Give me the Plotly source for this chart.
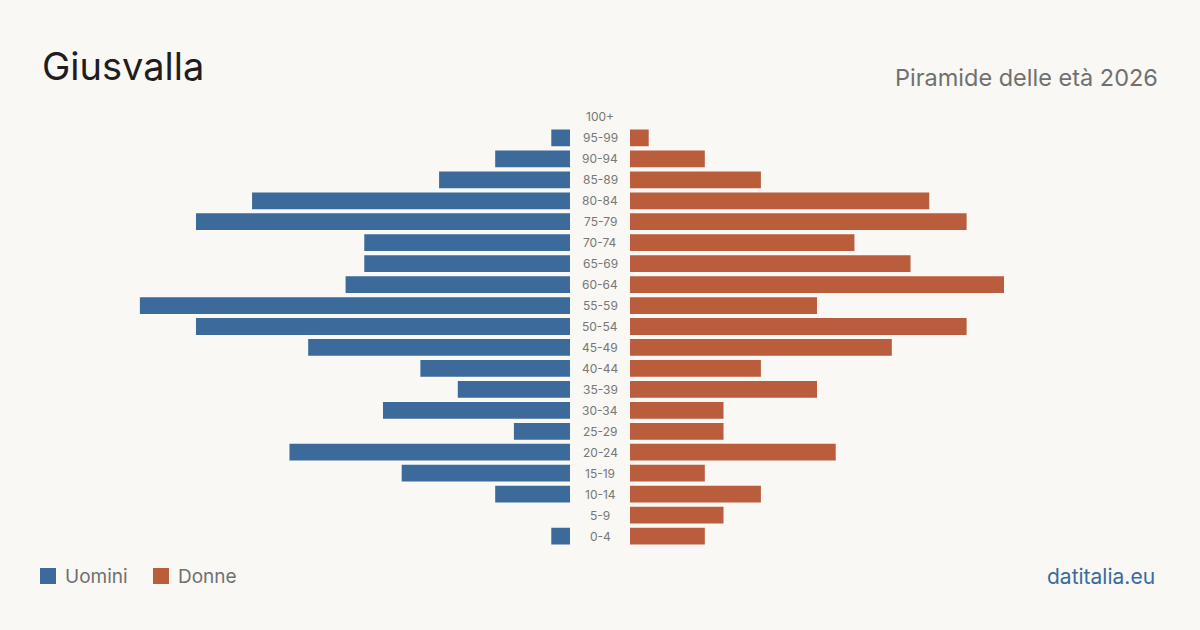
import plotly.graph_objects as go

age_groups = ["0-4", "5-9", "10-14", "15-19", "20-24", "25-29", "30-34", "35-39", "40-44",
              "45-49", "50-54", "55-59", "60-64", "65-69", "70-74", "75-79", "80-84",
              "85-89", "90-94", "95-99", "100+"]
men =   [1, 0, 4, 9, 15, 3, 10, 6, 8, 14, 20, 23, 12, 11, 11, 20, 17, 7, 4, 1, 0]
women = [4, 5, 7, 4, 11, 5, 5, 10, 7, 14, 18, 10, 20, 15, 12, 18, 16, 7, 4, 1, 0]

title = "Giusvalla"
subtitle = "Piramide delle età 2026"
source = "datitalia.eu"

BLUE = "#3b6a9b"
ORANGE = "#ba5d3c"
BG = "#f9f8f4"
FONT = "Inter, 'Noto Sans', sans-serif"

W, H = 1200, 630
xmax = 28.34

fig = go.Figure()
fig.add_trace(go.Bar(y=age_groups, x=men, orientation="h", marker_color=BLUE,
                     marker_line_width=0, width=0.8, xaxis="x", yaxis="y", name="Uomini",
                     showlegend=False, hoverinfo="x+y"))
fig.add_trace(go.Bar(y=age_groups, x=women, orientation="h", marker_color=ORANGE,
                     marker_line_width=0, width=0.8, xaxis="x2", yaxis="y", name="Donne",
                     showlegend=False, hoverinfo="x+y"))

ydom = [(H - 546.5) / H, (H - 106.5) / H]

annotations = []
for g in age_groups:
    annotations.append(dict(x=0.5, xref="paper", y=g, yref="y", text=g, showarrow=False,
                            font=dict(family=FONT, size=12, color="#777777"),
                            xanchor="center", yanchor="middle"))

annotations += [
    dict(x=40 / W, y=1 - 66 / H, xref="paper", yref="paper", text=title, showarrow=False,
         xanchor="left", yanchor="middle", font=dict(family=FONT, size=38, color="#1e1e1e")),
    dict(x=1160 / W, y=1 - 77 / H, xref="paper", yref="paper", text=subtitle, showarrow=False,
         xanchor="right", yanchor="middle", font=dict(family=FONT, size=23.5, color="#707070")),
    dict(x=1157 / W, y=1 - 576 / H, xref="paper", yref="paper", text=source, showarrow=False,
         xanchor="right", yanchor="middle", font=dict(family=FONT, size=21, color=BLUE)),
    dict(x=63 / W, y=1 - 576 / H, xref="paper", yref="paper", text="Uomini", showarrow=False,
         xanchor="left", yanchor="middle", font=dict(family=FONT, size=19, color="#707070")),
    dict(x=176 / W, y=1 - 576 / H, xref="paper", yref="paper", text="Donne", showarrow=False,
         xanchor="left", yanchor="middle", font=dict(family=FONT, size=19, color="#707070")),
]

shapes = [
    dict(type="rect", xref="paper", yref="paper", x0=40 / W, x1=56 / W,
         y0=1 - 584 / H, y1=1 - 568 / H, fillcolor=BLUE, line=dict(width=0)),
    dict(type="rect", xref="paper", yref="paper", x0=153 / W, x1=169 / W,
         y0=1 - 584 / H, y1=1 - 568 / H, fillcolor=ORANGE, line=dict(width=0)),
]

fig.update_layout(
    width=W, height=H,
    margin=dict(l=0, r=0, t=0, b=0),
    paper_bgcolor=BG, plot_bgcolor=BG,
    barmode="overlay",
    xaxis=dict(domain=[40 / W, 570 / W], range=[xmax, 0], visible=False, fixedrange=True),
    xaxis2=dict(domain=[630 / W, 1160 / W], range=[0, xmax], visible=False, fixedrange=True),
    yaxis=dict(domain=ydom, range=[-0.5, 20.5], visible=False, type="category",
               categoryorder="array", categoryarray=age_groups, fixedrange=True),
    annotations=annotations,
    shapes=shapes,
    showlegend=False,
)

fig.write_html("out.html")
